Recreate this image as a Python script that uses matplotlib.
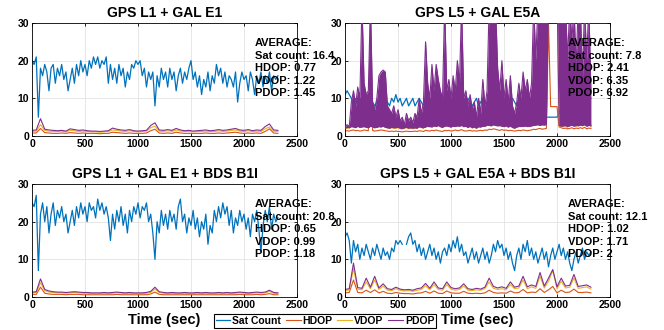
import numpy as np
import matplotlib
matplotlib.use("Agg")
import matplotlib.pyplot as plt

plt.rcParams["font.family"] = ["Liberation Sans", "DejaVu Sans"]
plt.rcParams["font.weight"] = "bold"

# MATLAB default line colours
C_SAT = "#0072BD"
C_H = "#D95319"
C_V = "#EDB120"
C_P = "#7E2F8E"

# ---- data (sat count every 20 s, DOP every 40 s) ----
t20 = np.arange(0, 2321, 20)
t40 = np.arange(0, 2321, 40)

# GPS L1 + GAL E1
sat_l1e1 = [20, 19, 21, 5, 18, 16, 19, 17, 12, 18, 19, 14, 18, 16, 19, 15, 17, 12, 15, 18,
            14, 19, 16, 20, 17, 19, 16, 20, 18, 21, 19, 21, 18, 20, 19, 21, 14, 19, 15, 18,
            14, 19, 16, 18, 13, 17, 15, 19, 18, 20, 19, 20, 16, 18, 13, 17, 15, 17, 8, 16,
            13, 18, 15, 17, 13, 18, 15, 17, 12, 16, 18, 14, 17, 15, 18, 20, 15, 17, 13, 16,
            11, 15, 13, 17, 12, 16, 14, 19, 16, 18, 14, 17, 13, 16, 15, 13, 17, 9, 14, 17,
            15, 16, 12, 17, 15, 11, 16, 14, 17, 13, 16, 14, 17, 12, 16, 15, 16]
hdop_l1e1 = [0.8, 0.8, 2.0, 0.9, 0.8, 0.7, 0.7, 0.8, 0.7, 0.9, 0.8, 0.7, 0.8, 0.7, 0.7,
             0.7, 0.6, 0.7, 0.7, 1.0, 0.9, 0.8, 0.7, 0.8, 0.7, 0.7, 0.7, 0.8, 1.4, 1.8,
             0.8, 0.7, 0.8, 0.7, 1.0, 0.8, 0.7, 0.7, 0.7, 0.7, 0.7, 0.8, 0.7, 0.7, 0.8,
             0.7, 0.8, 0.9, 1.0, 0.8, 0.7, 0.8, 0.7, 0.8, 0.7, 1.2, 1.9, 0.8, 0.7]
vdop_l1e1 = [1.2, 1.3, 3.0, 1.5, 1.3, 1.2, 1.2, 1.3, 1.1, 1.5, 1.4, 1.2, 1.3, 1.2, 1.1,
             1.1, 1.0, 1.1, 1.2, 1.6, 1.5, 1.3, 1.2, 1.4, 1.2, 1.1, 1.2, 1.3, 2.2, 2.6,
             1.3, 1.2, 1.4, 1.2, 1.6, 1.3, 1.2, 1.2, 1.1, 1.2, 1.2, 1.3, 1.2, 1.2, 1.4,
             1.2, 1.3, 1.5, 1.6, 1.3, 1.2, 1.4, 1.2, 1.3, 1.2, 1.9, 2.4, 1.3, 1.2]
pdop_l1e1 = [1.5, 1.6, 4.6, 1.8, 1.6, 1.5, 1.4, 1.5, 1.3, 1.9, 1.7, 1.5, 1.6, 1.4, 1.3,
             1.3, 1.2, 1.3, 1.4, 2.1, 1.8, 1.6, 1.5, 1.7, 1.4, 1.3, 1.4, 1.5, 2.8, 3.5,
             1.6, 1.5, 1.7, 1.5, 2.0, 1.6, 1.4, 1.5, 1.3, 1.4, 1.5, 1.6, 1.4, 1.5, 1.7,
             1.5, 1.6, 1.8, 2.0, 1.6, 1.5, 1.7, 1.4, 1.6, 1.5, 2.5, 3.2, 1.6, 1.5]

# GPS L5 + GAL E5A (20 s steps, PDOP given as min/max band)
sat_l5e5 = [11, 12, 11, 10, 9, 10, 8, 9, 10, 8, 9, 8, 10, 9, 8, 9, 10, 8, 9, 10,
            9, 8, 10, 9, 11, 9, 10, 8, 9, 10, 8, 9, 10, 8, 9, 10, 9, 8, 10, 9,
            8, 10, 9, 8, 9, 10, 8, 9, 10, 9, 8, 9, 10, 8, 9, 10, 9, 8, 10, 9,
            8, 9, 10, 8, 9, 10, 9, 8, 9, 10, 8, 9, 10, 9, 8, 10, 9, 8, 9, 10,
            9, 8, 10, 9, 8, 9, 10, 8, 9, 8, 7, 7, 6, 6, 5, 5, 5, 5, 5, 5,
            5, 6, 8, 9, 10, 8, 9, 10, 8, 9, 10, 8, 9, 10, 8, 9, 10]
hdop_l5e5 = [1.3, 1.4, 1.3, 1.5, 1.6, 1.4, 1.5, 1.3,
             1.4, 1.6, 1.5, 1.4, 30, 1.5, 1.3, 1.4,
             1.5, 1.6, 1.5, 1.4, 1.3, 1.2, 1.3, 1.2,
             1.3, 1.2, 1.2, 1.1, 1.2, 1.3, 1.2, 1.2,
             1.2, 1.3, 1.2, 1.4, 1.3, 1.2, 1.5, 1.4,
             1.3, 1.5, 1.4, 1.6, 1.4, 1.3, 1.2, 1.5,
             1.4, 1.5, 1.3, 1.4, 1.6, 1.4, 1.5, 1.7,
             1.4, 1.3, 1.4, 1.5, 1.3, 1.4, 1.3, 1.4,
             1.5, 1.4, 1.6, 1.5, 1.8, 1.7, 1.9, 1.8,
             1.6, 1.5, 1.7, 1.5, 1.6, 1.4, 1.5, 1.4,
             1.3, 1.4, 1.5, 1.4, 1.6, 1.5, 1.4, 1.5,
             1.6, 1.8, 1.7, 1.9, 2.0, 1.8, 1.9, 2.0,
             30, 7.8, 7.8, 7.8, 7.8, 2.4, 2.2, 2.0,
             2.1, 1.9, 2.0, 2.2, 1.9, 2.1, 2.0, 2.2,
             2.0, 2.3, 1.9, 2.1, 2.0]
vdop_l5e5 = [1.9, 2.0, 2.1, 2.6, 3.0, 2.5, 2.8, 2.2,
             8, 3.0, 2.6, 2.8, 9, 2.4, 2.2, 2.5,
             3.0, 3.2, 3.0, 2.6, 2.1, 2.0, 2.2, 2.0,
             2.1, 2.2, 1.9, 1.8, 2.0, 2.2, 1.9, 2.0,
             1.9, 2.1, 2.0, 2.4, 2.2, 2.0, 8, 2.5,
             2.4, 5, 2.6, 5, 2.8, 2.4, 2.2, 9,
             2.6, 3.0, 2.3, 3.2, 4, 2.8, 2.6, 9,
             2.4, 2.6, 2.2, 2.5, 2.1, 2.3, 2.0, 2.4,
             2.3, 3.0, 2.5, 2.8, 9, 9, 9, 9,
             3.0, 2.6, 3.5, 2.4, 3.0, 2.3, 3.2, 2.2,
             2.0, 2.3, 2.8, 2.4, 3.1, 2.6, 2.8, 2.4,
             2.6, 9, 3.2, 9, 9, 9, 9, 9,
             40, 40, 40, 40, 40, 2.6, 2.4, 2.5,
             2.6, 2.3, 9, 2.8, 9, 2.4, 9, 9,
             2.6, 9, 2.8, 9, 2.4]
pdop_lo_l5e5 = [2.1, 2.3, 2.2, 2.5, 2.4, 2.2, 2.6, 2.3,
                2.4, 2.5, 2.3, 2.2, 2.6, 2.4, 2.2, 2.3,
                2.5, 2.4, 2.6, 2.3, 2.2, 2.1, 2.3, 2.2,
                2.2, 2.3, 2.1, 2.0, 2.2, 2.3, 2.1, 2.2,
                2.1, 2.2, 2.1, 2.5, 2.3, 2.2, 2.4, 2.6,
                2.5, 2.4, 2.7, 2.5, 2.8, 2.5, 2.3, 2.6,
                2.7, 2.5, 2.4, 2.6, 2.5, 2.7, 2.6, 2.8,
                2.5, 2.6, 2.3, 2.6, 2.2, 2.4, 2.1, 2.5,
                2.4, 2.6, 2.6, 2.9, 2.8, 2.7, 3.0, 2.8,
                2.7, 2.8, 2.6, 2.5, 2.7, 2.4, 2.6, 2.3,
                2.1, 2.4, 2.5, 2.6, 2.5, 2.7, 2.5, 2.6,
                2.7, 2.8, 2.9, 3.0, 2.8, 3.0, 2.9, 3.1,
                40, 40, 40, 40, 40, 2.8, 2.6, 2.7,
                2.8, 2.5, 2.7, 2.9, 2.6, 2.8, 2.7, 2.9,
                2.8, 3.0, 2.6, 2.8, 2.7]
pdop_hi_l5e5 = [2.5, 3.0, 2.5, 9, 12, 8, 13, 10,
                35, 14, 11, 12, 35, 9, 7, 10,
                16, 17, 17.5, 17, 8, 7, 6, 8,
                5, 7, 4, 5, 3, 6, 4, 5,
                3.5, 6, 5, 10, 6, 9, 25, 14,
                10, 19, 12, 19, 15, 12, 10, 35,
                12, 15, 10, 16, 12, 20, 14, 35,
                10, 12, 8, 11, 7, 9, 5, 10,
                6, 15, 8, 12, 35, 35, 35, 35,
                18, 12, 20, 10, 15, 9, 16, 8,
                6, 9, 14, 10, 17, 12, 15, 10,
                14, 35, 20, 35, 35, 35, 35, 35,
                40, 40, 40, 40, 40, 35, 35, 35,
                35, 20, 35, 25, 35, 18, 35, 35,
                15, 35, 20, 35, 12]

# GPS L1 + GAL E1 + BDS B1I
sat_l1e1b1 = [25, 24, 27, 7, 22, 25, 20, 24, 17, 22, 25, 19, 23, 21, 24, 20, 22, 17, 20, 23,
              19, 24, 21, 25, 22, 24, 20, 25, 23, 24, 21, 26, 23, 25, 22, 24, 21, 15, 22, 18,
              23, 20, 24, 19, 22, 17, 23, 20, 24, 22, 25, 21, 24, 23, 25, 20, 22, 17, 10, 20,
              17, 23, 19, 22, 18, 23, 20, 22, 18, 24, 26, 20, 22, 17, 21, 19, 23, 18, 21, 16,
              20, 18, 22, 14, 19, 17, 23, 20, 24, 21, 25, 22, 24, 19, 23, 17, 21, 19, 23, 20,
              22, 18, 21, 16, 22, 20, 23, 18, 12, 19, 23, 20, 24, 18, 22, 20, 21]
hdop_l1e1b1 = [0.7, 0.7, 2.6, 1.0, 0.8, 0.7, 0.7, 0.7, 0.6, 0.7, 0.7, 0.7, 0.6, 0.6, 0.6,
               0.6, 0.6, 0.6, 0.6, 0.6, 0.7, 0.6, 0.6, 0.6, 0.6, 0.6, 0.6, 0.6, 0.8, 1.3,
               0.7, 0.6, 0.6, 0.6, 0.6, 0.6, 0.6, 0.6, 0.6, 0.6, 0.6, 0.6, 0.6, 0.6, 0.6,
               0.6, 0.6, 0.6, 0.6, 0.7, 0.6, 0.6, 0.6, 0.7, 0.6, 0.7, 0.9, 0.6, 0.6]
vdop_l1e1b1 = [1.1, 1.2, 3.8, 1.7, 1.3, 1.2, 1.1, 1.1, 1.0, 1.1, 1.2, 1.1, 1.0, 1.0, 0.9,
               0.9, 0.9, 1.0, 0.9, 1.0, 1.1, 1.0, 0.9, 1.0, 0.9, 0.9, 0.9, 1.0, 1.2, 2.1,
               1.2, 1.0, 0.9, 1.0, 0.9, 0.9, 1.0, 0.9, 0.9, 1.0, 0.9, 1.0, 0.9, 0.9, 1.0,
               0.9, 1.0, 0.9, 1.0, 1.1, 1.0, 0.9, 1.0, 1.1, 1.0, 1.1, 1.5, 1.0, 0.9]
pdop_l1e1b1 = [1.3, 1.4, 4.8, 2.0, 1.6, 1.4, 1.3, 1.3, 1.2, 1.3, 1.4, 1.3, 1.2, 1.2, 1.1,
               1.1, 1.1, 1.2, 1.1, 1.2, 1.3, 1.2, 1.1, 1.2, 1.1, 1.1, 1.1, 1.2, 1.5, 2.6,
               1.4, 1.2, 1.1, 1.2, 1.1, 1.1, 1.2, 1.1, 1.1, 1.2, 1.1, 1.2, 1.1, 1.1, 1.2,
               1.1, 1.2, 1.1, 1.2, 1.3, 1.2, 1.1, 1.2, 1.3, 1.2, 1.3, 1.8, 1.2, 1.1]

# GPS L5 + GAL E5A + BDS B1I
sat_l5e5b1 = [16, 17, 15, 9, 15, 12, 14, 10, 13, 11, 14, 12, 10, 13, 11, 14, 12, 10, 13, 11,
              12, 10, 13, 12, 15, 14, 15, 14, np.nan, 14, 16, 17, 14, 15, 12, 14, 11, 13, 10, 12,
              14, 11, 13, 10, 12, 9, 12, 13, 11, 14, 12, 15, 13, 16, 12, 14, 11, 12, 9, 11,
              13, 10, 12, 9, 11, 13, 10, 12, 9, 11, 14, 12, 15, 13, 14, 11, 13, 10, 12, 9,
              7, 11, 13, 10, 14, 12, 15, 11, 13, 10, 12, 9, 11, 13, 10, 12, 8, 11, 13, 10,
              12, 14, 11, 13, 10, 12, 9, 7, 10, 12, 9, 11, 13, 10, 12, 11, 12]
hdop_l5e5b1 = [1.1, 1.2, 4.5, 1.2, 1.1, 1.8, 1.2, 1.9, 1.1, 1.5, 1.0, 0.9, 1.2, 1.0, 0.9,
               0.9, 0.8, 1.0, 1.1, 1.5, 1.0, 1.6, 1.0, 0.9, 1.6, 1.1, 1.0, 1.0, 1.5, 1.0,
               0.9, 1.0, 0.9, 1.1, 1.8, 1.2, 1.0, 1.1, 1.0, 1.6, 1.1, 1.2, 2.0, 1.1, 1.3,
               1.2, 2.2, 1.2, 1.9, 2.8, 1.1, 1.8, 1.2, 1.3, 2.1, 1.2, 1.2, 1.3, 1.1]
vdop_l5e5b1 = [1.7, 1.9, 7.5, 2.1, 1.9, 4.0, 2.2, 4.5, 2.0, 2.9, 1.8, 1.7, 2.2, 1.8, 1.6,
               1.7, 1.5, 1.8, 2.0, 3.0, 1.9, 3.3, 2.0, 1.8, 3.3, 2.1, 1.8, 2.0, 2.9, 1.8,
               1.7, 1.9, 1.8, 2.2, 4.0, 2.3, 2.0, 2.2, 1.9, 3.3, 2.2, 2.4, 4.5, 2.2, 2.7,
               2.3, 5.5, 2.4, 4.2, 7.0, 2.2, 4.2, 2.4, 2.6, 5.0, 2.3, 2.5, 2.7, 2.1]
pdop_l5e5b1 = [2.0, 2.2, 9.0, 2.5, 2.3, 5.0, 2.6, 5.5, 2.4, 3.5, 2.2, 2.0, 2.6, 2.1, 1.9,
               2.0, 1.8, 2.2, 2.4, 3.6, 2.3, 4.0, 2.4, 2.2, 4.0, 2.5, 2.2, 2.4, 3.5, 2.2,
               2.0, 2.3, 2.1, 2.6, 5.0, 2.8, 2.4, 2.7, 2.3, 4.0, 2.6, 2.9, 5.5, 2.7, 3.2,
               2.8, 6.5, 2.9, 5.0, 7.3, 2.7, 5.0, 2.9, 3.1, 6.0, 2.8, 3.0, 3.2, 2.6]

titles = ["GPS L1 + GAL E1", "GPS L5 + GAL E5A",
          "GPS L1 + GAL E1 + BDS B1I", "GPS L5 + GAL E5A + BDS B1I"]
avg_text = ["AVERAGE:\nSat count: 16.4\nHDOP: 0.77\nVDOP: 1.22\nPDOP: 1.45",
            "AVERAGE:\nSat count: 7.8\nHDOP: 2.41\nVDOP: 6.35\nPDOP: 6.92",
            "AVERAGE:\nSat count: 20.8\nHDOP: 0.65\nVDOP: 0.99\nPDOP: 1.18",
            "AVERAGE:\nSat count: 12.1\nHDOP: 1.02\nVDOP: 1.71\nPDOP: 2"]
legend_labels = ["Sat Count", "HDOP", "VDOP", "PDOP"]

# ---- figure ----
fig = plt.figure(figsize=(6.64, 3.30), dpi=100)
W, H = 664, 330
boxes = [(32, 23), (345, 23), (32, 184), (345, 184)]
axes = [fig.add_axes([x / W, 1 - (y + 113) / H, 265 / W, 113 / H]) for x, y in boxes]


def style(ax, title, txt, xlabel=False):
    ax.set_xlim(0, 2500)
    ax.set_ylim(0, 30)
    ax.set_xticks([0, 500, 1000, 1500, 2000, 2500])
    ax.set_yticks([0, 10, 20, 30])
    ax.grid(True, color="#e3e3e3", linewidth=0.6)
    ax.set_axisbelow(True)
    ax.tick_params(direction="in", length=2.5, width=0.6, labelsize=7.5, pad=2,
                   top=True, right=True)
    for s in ax.spines.values():
        s.set_linewidth(0.6)
    ax.set_title(title, fontsize=10, fontweight="bold", pad=4)
    ax.text(2100, 18, txt, ha="left", va="center", fontsize=8, fontweight="bold",
            linespacing=1.32, clip_on=False, zorder=10)
    if xlabel:
        ax.set_xlabel("Time (sec)", fontsize=10.5, fontweight="bold", labelpad=2)


lw = 0.9
calm = [(axes[0], sat_l1e1, hdop_l1e1, vdop_l1e1, pdop_l1e1),
        (axes[2], sat_l1e1b1, hdop_l1e1b1, vdop_l1e1b1, pdop_l1e1b1),
        (axes[3], sat_l5e5b1, hdop_l5e5b1, vdop_l5e5b1, pdop_l5e5b1)]
for ax, s, h, v, p in calm:
    ax.plot(t20, s, color=C_SAT, lw=lw)
    ax.plot(t40, h, color=C_H, lw=0.8)
    ax.plot(t40, v, color=C_V, lw=0.8)
    ax.plot(t40, p, color=C_P, lw=0.8)

# the L5 + E5A panel: PDOP jumps around so fast it paints a solid band
ax = axes[1]
ax.plot(t20, sat_l5e5, color=C_SAT, lw=lw, zorder=2)
ax.plot(t20, hdop_l5e5, color=C_H, lw=0.8, zorder=2)
ax.plot(t20, vdop_l5e5, color=C_V, lw=0.8, zorder=2)
ax.fill_between(t20, pdop_lo_l5e5, pdop_hi_l5e5, color=C_P, lw=0, zorder=3)
ax.plot(t20, pdop_hi_l5e5, color=C_P, lw=0.8, zorder=3)
ax.plot(t20, pdop_lo_l5e5, color=C_P, lw=0.8, zorder=3)

for i, ax in enumerate(axes):
    style(ax, titles[i], avg_text[i], xlabel=(i >= 2))

leg = fig.legend(axes[2].lines[:4], legend_labels, loc="center",
                 bbox_to_anchor=(325 / W, 1 - 321 / H), ncol=4, fontsize=7.5,
                 frameon=True, fancybox=False, edgecolor="black", framealpha=1,
                 handlelength=1.4, handletextpad=0.2, columnspacing=0.45,
                 borderpad=0.2, borderaxespad=0)
leg.get_frame().set_linewidth(0.8)

fig.savefig("out.png", dpi=100)
